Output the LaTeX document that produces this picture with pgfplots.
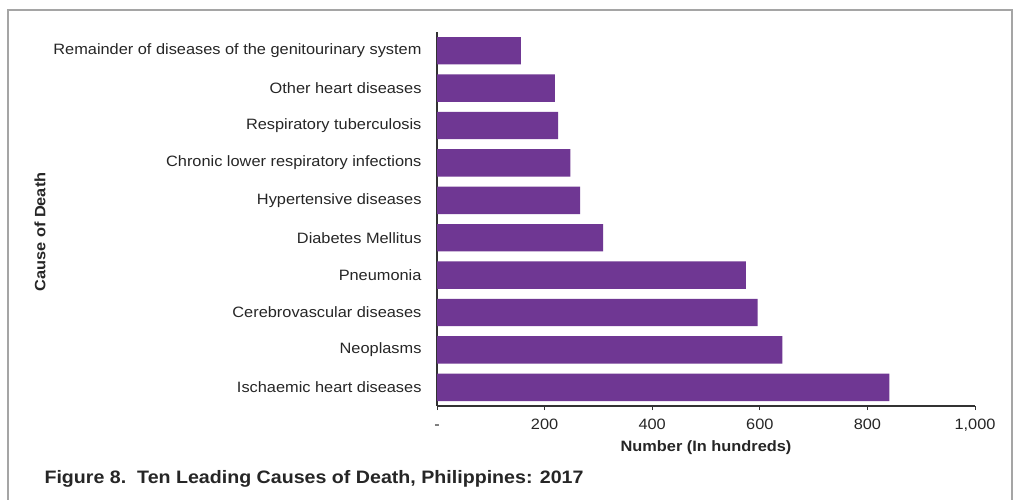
\documentclass[border=0pt]{standalone}
\usepackage{pgfplots}
\pgfplotsset{compat=1.18}
\usepackage{pgfplotstable}
\usepackage{fontspec}
\setmainfont{Liberation Sans}[FakeStretch=1.09]
\definecolor{barcol}{RGB}{111,55,147}
\definecolor{txt}{RGB}{38,38,38}
\definecolor{framecol}{RGB}{165,165,165}
\definecolor{axcol}{RGB}{50,50,50}

\pgfplotstableread{
idx value
0 841
1 642
2 596
3 574
4 309
5 266
6 248
7 225
8 219
9 156
}\datatable

\begin{document}
\begin{tikzpicture}[x=1pt,y=1pt]
\useasboundingbox (0,0) rectangle (1014,499);
\fill[white] (0,0) rectangle (1014,499);
\draw[framecol, line width=2pt] (8,-5) -- (8,489) -- (1012,489) -- (1012,-5);
\begin{axis}[
  at={(437pt,93pt)}, anchor=south west,
  scale only axis, width=538pt, height=374pt,
  xmin=0, xmax=1000, ymin=-0.5, ymax=9.5,
  xbar, bar width=27.4pt, bar shift=0pt,
  axis x line*=bottom, axis y line*=left,
  axis line style={-, draw=axcol, line width=1.3pt},
  ytick={0,...,9},
  yticklabels={Ischaemic heart diseases, Neoplasms, Cerebrovascular diseases, Pneumonia, Diabetes Mellitus, Hypertensive diseases, Chronic lower respiratory infections, Respiratory tuberculosis, Other heart diseases, Remainder of diseases of the genitourinary system},
  ytick style={draw=none},
  xtick={0,200,400,600,800,1000},
  xticklabels={-,200,400,600,800,{1,000}},
  tick align=outside, major tick length=4pt,
  xtick style={draw=axcol, line width=1pt},
  tick label style={font=\fontsize{15}{17}\selectfont, text=txt},
  yticklabel style={xshift=-8pt},
  xticklabel style={yshift=-5pt, text height=11pt, text depth=0pt},
  /pgf/number format/assume math mode=true,
  clip=false,
]
\addplot[fill=barcol, draw=none] table[x=value, y=idx] {\datatable};
\end{axis}
\node[font=\fontsize{15}{17}\selectfont\bfseries, text=txt] at (706,51) {Number (In hundreds)};
\node[font=\fontsize{15}{17}\selectfont\bfseries, text=txt, rotate=90] at (40,267) {Cause of Death};
\node[font=\fontsize{18}{21}\selectfont\bfseries, text=txt, anchor=west] at (41,20) {Figure 8.\ \ Ten Leading Causes of Death, Philippines: 2017};
\end{tikzpicture}
\end{document}
